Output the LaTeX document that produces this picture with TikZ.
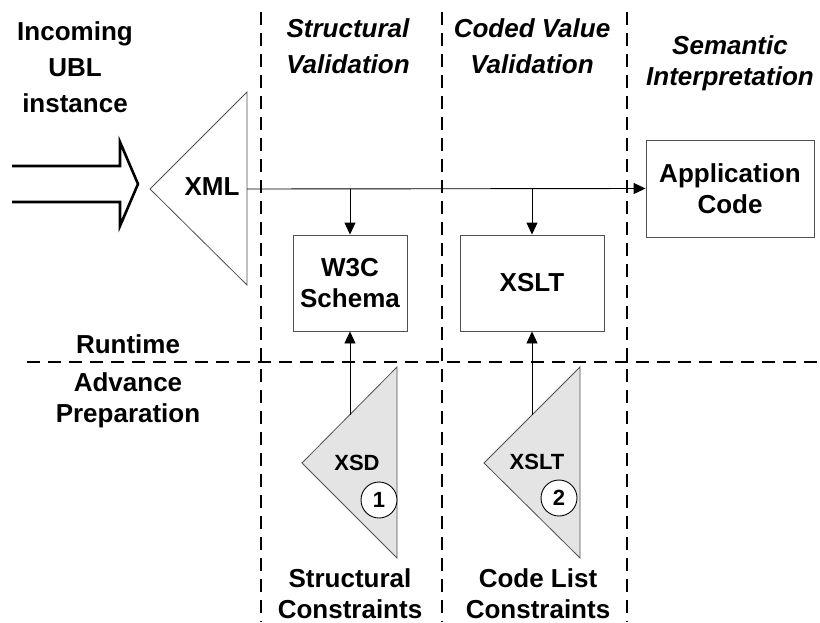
\documentclass[tikz,border=0pt]{standalone}
\usepackage{fontspec}
\setmainfont{Liberation Sans}
\usetikzlibrary{arrows.meta}
\newcommand\dgbig{\fontsize{26}{36}\selectfont\bfseries}
\newcommand\dgmid{\fontsize{26}{31}\selectfont\bfseries}
\newcommand\dgsmall{\fontsize{22}{26}\selectfont\bfseries}
\definecolor{trifill}{HTML}{E4E4E4}
\definecolor{edge}{HTML}{505050}
\begin{document}
\begin{tikzpicture}[x=1pt,y=-1pt,
  lane/.style={line width=2.7pt, dash pattern=on 13pt off 8pt},
  box/.style={draw=edge, line width=0.9pt, fill=white, align=center, font=\dgmid, inner sep=0pt},
  flow/.style={-{Triangle[length=12pt,width=11pt]}, line width=0.9pt},
  tri/.style={draw=edge, line width=0.8pt, line join=miter},
  head/.style={font=\dgbig\itshape, align=center, anchor=base},
  lab/.style={font=\dgbig, align=center, anchor=base},
  labb/.style={font=\dgmid, align=center, anchor=base},
  num/.style={circle, draw=black, line width=0.9pt, fill=white, minimum size=36pt, inner sep=0pt, font=\dgsmall}
]
\useasboundingbox (0,0) rectangle (820,622);

% swim-lane separators
\draw[lane] (261,12) -- (261,622);
\draw[lane] (442,12) -- (442,622);
\draw[lane] (627,12) -- (627,622);
\draw[lane] (27,362) -- (820,362);

% lane headings (anchored on the baseline of their last line)
\node[lab]  (incoming) at (75,112)  {Incoming\\UBL\\instance};
\node[head] (hstruct)  at (348,73)  {Structural\\Validation};
\node[head] (hcoded)   at (532,73)  {Coded Value\\Validation};
\node[labb, font=\dgmid\itshape] (hsem) at (730,85) {Semantic\\Interpretation};
\node[labb] (runtime)  at (128,353) {Runtime};
\node[labb] (advance)  at (128,422) {Advance\\Preparation};

% incoming document arrow (hollow double-line arrow)
\draw[line width=2.6pt, line join=miter, miter limit=20]
  (12,166) -- (120,166) -- (120,142) -- (138,184) -- (120,226) -- (120,202) -- (12,202);

% XML instance triangle
\draw[tri, fill=white] (150,189) -- (247,92) -- (247,285) -- cycle;
\node[font=\dgbig, inner sep=0pt] (xml) at (212,187) {XML};
\coordinate (xmlout) at (247,189);

% runtime processors
\node[box, minimum width=114pt, minimum height=96pt] (w3c)  at (350,283) {W3C\\Schema};
\node[box, minimum width=144pt, minimum height=96pt] (xslt) at (532,283) {XSLT};
\node[box, minimum width=168pt, minimum height=97pt] (app)  at (730,188.5) {Application\\Code};

% main flow and branches
\draw[flow] (xmlout) -- (app.west);
\draw[flow] (xmlout -| w3c.north) -- (w3c.north);
\draw[flow] (xmlout -| xslt.north) -- (xslt.north);

% preparation artefacts
\draw[tri, fill=trifill] (302,463) -- (397,367) -- (397,558) -- cycle;
\draw[tri, fill=trifill] (484,463) -- (580,367) -- (580,558) -- cycle;
\coordinate (xsdtop)  at (349.5,414.5);
\coordinate (xslttop) at (532,415);
\node[font=\dgsmall, inner sep=0pt] (xsd)  at (357,463) {XSD};
\node[font=\dgsmall, inner sep=0pt] (xsl2) at (537,462) {XSLT};
\node[num] (n1) at (379,500) {1};
\node[num] (n2) at (559,498) {2};

\draw[flow] (xsdtop -| w3c.south) -- (w3c.south);
\draw[flow] (xslttop -| xslt.south) -- (xslt.south);

% bottom captions
\node[labb] (cstruct) at (350,618) {Structural\\Constraints};
\node[labb] (ccode)   at (538,618) {Code List\\Constraints};
\end{tikzpicture}
\end{document}
